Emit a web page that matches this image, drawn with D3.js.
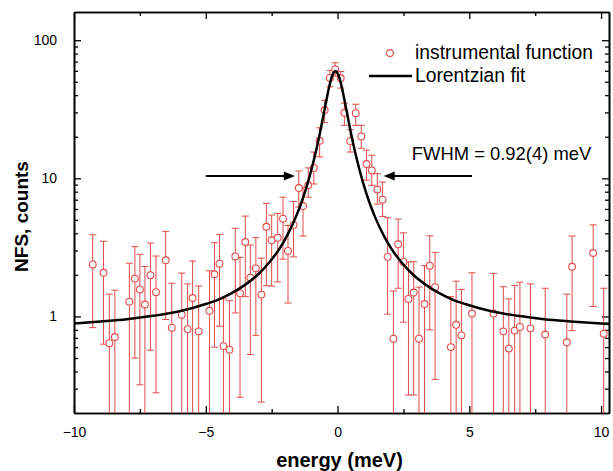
<!DOCTYPE html>
<html>
<head>
<meta charset="utf-8">
<script src="https://cdn.jsdelivr.net/npm/d3@7"></script>
<style>
  body { margin: 0; background: #fff; }
  text { font-family: Arial, "Liberation Sans", sans-serif; }
</style>
</head>
<body>
<div id="nfsChart"></div>
<script>
// measured points (energy in meV, NFS counts, error bar ends)
const energy = [
  -9.29, -8.88, -8.66, -8.45, -7.9, -7.69, -7.5, -7.31, -7.1, -6.89,
  -6.52, -6.29, -5.91, -5.69, -5.5, -5.27, -4.86, -4.67, -4.48, -4.33,
  -4.1, -3.88, -3.7, -3.5, -3.31, -3.1, -2.89, -2.7, -2.5, -2.27,
  -2.07, -1.88, -1.67, -1.47, -1.31, -1.11, -0.9, -0.68, -0.49, -0.29,
  -0.09, 0.12, 0.26, 0.48, 0.69, 0.9, 1.1, 1.3, 1.51, 1.71,
  1.9, 2.12, 2.3, 2.5, 2.69, 2.89, 3.09, 3.3, 3.5, 3.7,
  4.3, 4.5, 4.7, 5.1, 5.92, 6.29, 6.5, 6.72, 6.92, 7.32,
  7.88, 8.7, 8.9, 9.7, 10.1
]
const counts = [
  2.38, 2.07, 0.64, 0.71, 1.28, 1.88, 1.57, 1.22, 1.99, 1.5,
  2.55, 0.83, 1.03, 0.81, 1.36, 0.78, 1.1, 2.02, 2.41, 0.61,
  0.575, 2.72, 1.47, 3.46, 1.91, 2.23, 1.44, 4.46, 3.56, 3.71,
  5.1, 2.98, 4.6, 8.5, 6.3, 8.9, 11.9, 18.7, 31.2, 53.3,
  61.5, 53, 29.8, 18.6, 29.6, 20.1, 12.7, 11.4, 8.3, 7.0,
  2.7, 0.69, 3.33, 2.48, 1.34, 1.49, 0.69, 1.23, 2.33, 1.63,
  0.6, 0.87, 0.73, 1.05, 1.05, 0.78, 0.585, 0.79, 0.84, 0.82,
  0.74, 0.65, 2.29, 2.88, 0.75
]
const errLow = [
  0.83, 0.63, 0.1, 0.1, 0.1, 0.5, 0.32, 0.1, 0.57, 0.28,
  0.95, 0.1, 0.1, 0.1, 0.1, 0.1, 0.1, 0.6, 0.85, 0.1,
  0.1, 1.06, 0.26, 1.39, 0.53, 0.73, 0.24, 1.67, 1.66, 1.78,
  2.6, 1.25, 2.7, 6.2, 3.82, 7.3, 9.1, 14.3, 25.3, 46,
  55, 45, 24.2, 15.5, 24.2, 16.5, 9.7, 8.9, 6.5, 5.3,
  1.04, 0.1, 1.6, 0.91, 0.27, 0.27, 0.1, 0.1, 0.8, 0.35,
  0.1, 0.1, 0.1, 0.1, 0.1, 0.1, 0.1, 0.1, 0.1, 0.1,
  0.1, 0.1, 0.79, 1.18, 0.1
]
const errHigh = [
  3.9, 3.5, 1.45, 1.55, 2.43, 3.2, 2.82, 2.3, 3.4, 2.74,
  4.13, 1.74, 2.06, 1.72, 2.52, 1.66, 2.14, 3.42, 3.93, 1.34,
  1.3, 4.35, 2.68, 5.33, 3.29, 3.72, 2.64, 6.58, 5.42, 5.57,
  7.3, 4.56, 6.8, 11.3, 8.6, 11.9, 15.5, 23.2, 36.7, 60.5,
  68.6, 59.4, 35, 22.5, 34.4, 24.2, 16, 14.7, 10.8, 9.4,
  5.18, 1.53, 5.07, 4.03, 2.48, 2.49, 1.63, 2.33, 3.84, 2.91,
  1.39, 1.8, 1.57, 2.07, 2.05, 1.64, 1.34, 1.68, 1.77, 1.72,
  1.6, 1.45, 3.82, 4.6, 1.6
]

// Lorentzian fit
const fitEnergy = [
  -10, -9, -8, -7, -6, -5, -4.5, -4, -3.5, -3, -2.6, -2.2, -1.9, -1.6,
  -1.35, -1.15, -1, -0.85, -0.7, -0.55, -0.42, -0.3, -0.2, -0.12, -0.08,
  -0.04, 0.04, 0.14, 0.26, 0.39, 0.54, 0.69, 0.84, 0.99, 1.19, 1.44, 1.74,
  2.04, 2.44, 2.84, 3.34, 3.84, 4.34, 4.84, 5.84, 6.84, 7.84, 8.84, 10.3
]
const fitCounts = [
  0.89, 0.92, 0.955, 1.01, 1.09, 1.23, 1.33, 1.48, 1.7, 2.03, 2.45, 3.1, 3.9, 5.15,
  6.85, 9.0, 11.4, 14.8, 19.9, 27.7, 37.1, 47.6, 55.5, 59.3, 59.8,
  59.3, 55.5, 47.6, 37.1, 27.7, 19.9, 14.8, 11.4, 9.0, 6.85, 5.15, 3.9,
  3.1, 2.45, 2.03, 1.7, 1.48, 1.33, 1.23, 1.09, 1.01, 0.955, 0.92, 0.88
]

const xMajorTicks = [-10, -5, 0, 5, 10]
const xMinorTicks = [-7.5, -2.5, 2.5, 7.5]
const yMajorTicks = [1, 10, 100]
const yMinorTicks = [0.3, 0.4, 0.5, 0.6, 0.7, 0.8, 0.9, 2, 3, 4, 5, 6, 7, 8, 9,
  20, 30, 40, 50, 60, 70, 80, 90]

const legendLabels = ["instrumental function", "Lorentzian fit"]
const fwhmLabel = "FWHM = 0.92(4) meV"

class NfsChart {
  constructor() {
    this.width = 613
    this.height = 471
    this.margin = { top: 12, right: 4, bottom: 58, left: 74 }
    this.red = "#e34a4a"

    this.svg = d3
      .select("#nfsChart")
      .append("svg")
      .attr("width", this.width)
      .attr("height", this.height)

    this.x = d3
      .scaleLinear()
      .domain([-10, 10.3])
      .range([this.margin.left, this.width - this.margin.right])
    this.y = d3
      .scaleLog()
      .domain([0.2, 160])
      .range([this.height - this.margin.bottom, this.margin.top])

    this.svg
      .append("clipPath")
      .attr("id", "plotClip")
      .append("rect")
      .attr("x", this.x.range()[0])
      .attr("y", this.y.range()[1])
      .attr("width", this.x.range()[1] - this.x.range()[0])
      .attr("height", this.y.range()[0] - this.y.range()[1])

    this.drawAxes()
    this.drawPoints()
    this.drawFit()
    this.drawNotes()
  }

  drawAxes() {
    const x = this.x
    const y = this.y
    const bottom = this.y.range()[0]
    const top = this.y.range()[1]
    const left = this.x.range()[0]
    const right = this.x.range()[1]

    const styleAxis = (g) => {
      g.selectAll(".domain").attr("stroke", "#000").attr("stroke-width", 1.6)
      g.selectAll(".tick line").attr("stroke", "#000").attr("stroke-width", 1.3)
      g.selectAll(".tick text")
        .attr("fill", "#000")
        .style("font-size", "14px")
    }

    // bottom
    this.svg
      .append("g")
      .attr("transform", `translate(0,${bottom})`)
      .call(d3.axisBottom(x).tickValues(xMajorTicks).tickSize(-7).tickSizeOuter(0).tickPadding(14).tickFormat(d3.format("d")))
      .call(styleAxis)
    this.svg
      .append("g")
      .attr("transform", `translate(0,${bottom})`)
      .call(d3.axisBottom(x).tickValues(xMinorTicks).tickSize(-4).tickSizeOuter(0).tickFormat(""))
      .call(styleAxis)

    // top
    this.svg
      .append("g")
      .attr("transform", `translate(0,${top})`)
      .call(d3.axisTop(x).tickValues(xMajorTicks).tickSize(-7).tickSizeOuter(0).tickFormat(""))
      .call(styleAxis)
    this.svg
      .append("g")
      .attr("transform", `translate(0,${top})`)
      .call(d3.axisTop(x).tickValues(xMinorTicks).tickSize(-4).tickSizeOuter(0).tickFormat(""))
      .call(styleAxis)

    // left
    this.svg
      .append("g")
      .attr("transform", `translate(${left},0)`)
      .call(d3.axisLeft(y).tickValues(yMajorTicks).tickSize(-7).tickSizeOuter(0).tickPadding(17).tickFormat(d3.format("d")))
      .call(styleAxis)
    this.svg
      .append("g")
      .attr("transform", `translate(${left},0)`)
      .call(d3.axisLeft(y).tickValues(yMinorTicks).tickSize(-4).tickSizeOuter(0).tickFormat(""))
      .call(styleAxis)

    // right
    this.svg
      .append("g")
      .attr("transform", `translate(${right},0)`)
      .call(d3.axisRight(y).tickValues(yMajorTicks).tickSize(-7).tickSizeOuter(0).tickFormat(""))
      .call(styleAxis)
    this.svg
      .append("g")
      .attr("transform", `translate(${right},0)`)
      .call(d3.axisRight(y).tickValues(yMinorTicks).tickSize(-4).tickSizeOuter(0).tickFormat(""))
      .call(styleAxis)

    this.svg
      .append("text")
      .attr("x", (left + right) / 2 - 2)
      .attr("y", 467)
      .attr("text-anchor", "middle")
      .style("font-size", "20px")
      .style("font-weight", "bold")
      .text("energy (meV)")

    this.svg
      .append("text")
      .attr("transform", `translate(28,${(top + bottom) / 2 + 4}) rotate(-90)`)
      .attr("text-anchor", "middle")
      .style("font-size", "19px")
      .style("font-weight", "bold")
      .text("NFS, counts")
  }

  drawPoints() {
    const data = energy.map((e, i) => ({
      e: e,
      c: counts[i],
      lo: errLow[i],
      hi: errHigh[i],
    }))
    const capHalf = 3.5

    const bars = this.svg
      .append("g")
      .attr("clip-path", "url(#plotClip)")
      .attr("stroke", this.red)
      .attr("stroke-width", 1)

    bars
      .selectAll(".err-line")
      .data(data)
      .join("line")
      .attr("class", "err-line")
      .attr("x1", (d) => this.x(d.e))
      .attr("x2", (d) => this.x(d.e))
      .attr("y1", (d) => this.y(d.lo))
      .attr("y2", (d) => this.y(d.hi))

    bars
      .selectAll(".err-cap-hi")
      .data(data)
      .join("line")
      .attr("class", "err-cap-hi")
      .attr("x1", (d) => this.x(d.e) - capHalf)
      .attr("x2", (d) => this.x(d.e) + capHalf)
      .attr("y1", (d) => this.y(d.hi))
      .attr("y2", (d) => this.y(d.hi))

    bars
      .selectAll(".err-cap-lo")
      .data(data)
      .join("line")
      .attr("class", "err-cap-lo")
      .attr("x1", (d) => this.x(d.e) - capHalf)
      .attr("x2", (d) => this.x(d.e) + capHalf)
      .attr("y1", (d) => this.y(d.lo))
      .attr("y2", (d) => this.y(d.lo))

    this.svg
      .append("g")
      .selectAll("circle")
      .data(data)
      .join("circle")
      .attr("cx", (d) => this.x(d.e))
      .attr("cy", (d) => this.y(d.c))
      .attr("r", 3.4)
      .attr("fill", "#fff")
      .attr("stroke", this.red)
      .attr("stroke-width", 1.1)
  }

  drawFit() {
    const line = d3
      .line()
      .x((d) => this.x(d[0]))
      .y((d) => this.y(d[1]))
      .curve(d3.curveMonotoneX)

    this.svg
      .append("path")
      .datum(fitEnergy.map((e, i) => [e, fitCounts[i]]))
      .attr("clip-path", "url(#plotClip)")
      .attr("fill", "none")
      .attr("stroke", "#000")
      .attr("stroke-width", 2.5)
      .attr("d", line)
  }

  drawNotes() {
    // legend
    this.svg
      .append("circle")
      .attr("cx", 390)
      .attr("cy", 53)
      .attr("r", 3.4)
      .attr("fill", "#fff")
      .attr("stroke", this.red)
      .attr("stroke-width", 1.1)
    this.svg
      .append("line")
      .attr("x1", 369)
      .attr("x2", 412)
      .attr("y1", 76)
      .attr("y2", 76)
      .attr("stroke", "#000")
      .attr("stroke-width", 2.5)
    this.svg
      .selectAll(".legend-label")
      .data(legendLabels)
      .join("text")
      .attr("class", "legend-label")
      .attr("x", 415)
      .attr("y", (d, i) => 59 + i * 23)
      .style("font-size", "19.3px")
      .text((d) => d)

    // FWHM arrows
    const yArrow = this.y(10.4)
    const arrows = [
      [-5.0, -1.62],
      [5.1, 1.75],
    ]
    arrows.forEach(([from, to]) => {
      const x0 = this.x(from)
      const x1 = this.x(to)
      const dir = Math.sign(x1 - x0)
      this.svg
        .append("line")
        .attr("x1", x0)
        .attr("x2", x1 - dir * 8)
        .attr("y1", yArrow)
        .attr("y2", yArrow)
        .attr("stroke", "#000")
        .attr("stroke-width", 2)
      this.svg
        .append("path")
        .attr("d", `M${x1},${yArrow} L${x1 - dir * 11},${yArrow - 4.5} L${x1 - dir * 11},${yArrow + 4.5} Z`)
        .attr("fill", "#000")
    })

    this.svg
      .append("text")
      .attr("x", this.x(2.82))
      .attr("y", 160)
      .style("font-size", "18.4px")
      .text(fwhmLabel)
  }
}

new NfsChart()
</script>
</body>
</html>
